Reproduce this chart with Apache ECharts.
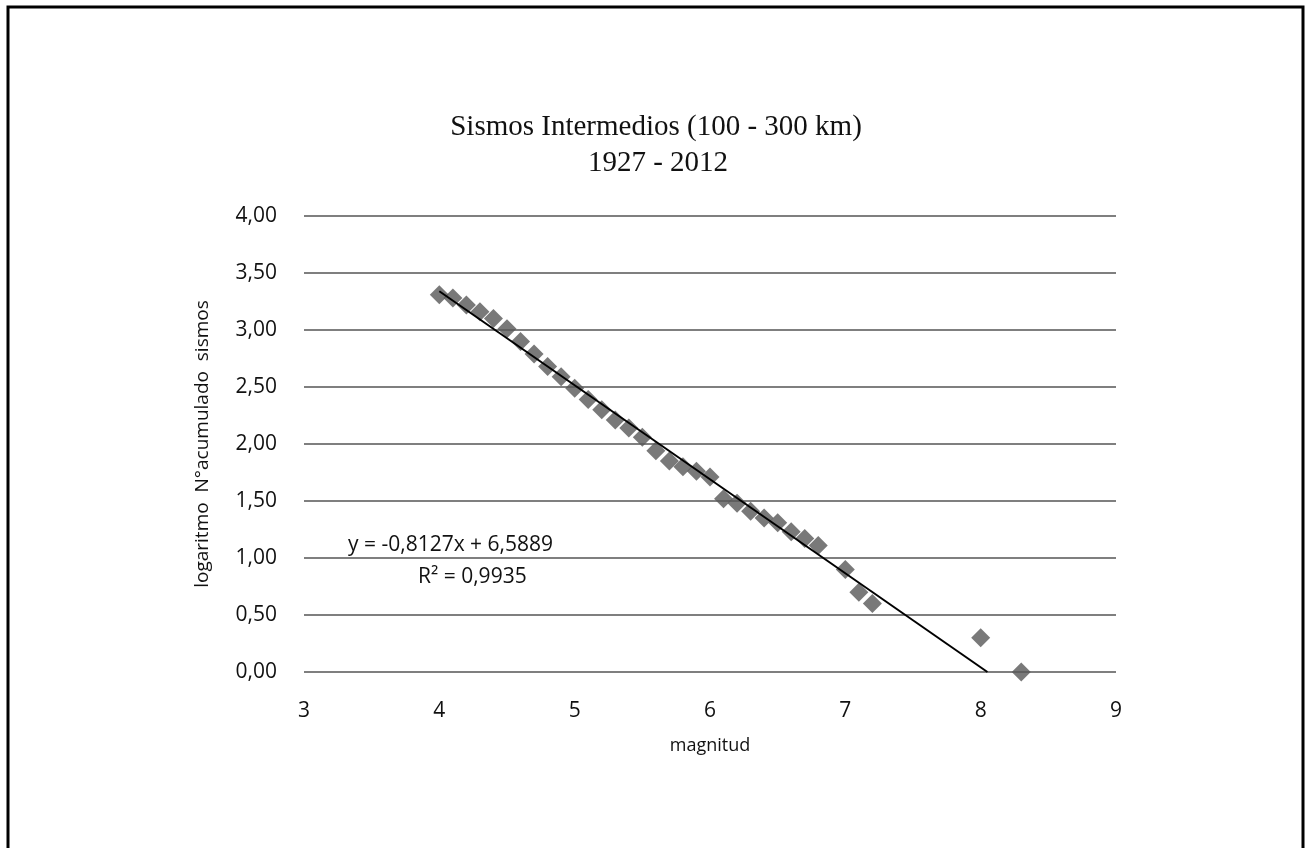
<!DOCTYPE html>
<html>
<head>
<meta charset="utf-8">
<script src="https://cdn.jsdelivr.net/npm/echarts@6/dist/echarts.min.js"></script>
<style>
html,body{margin:0;padding:0;background:#fff;}
#chart{width:1306px;height:848px;}
</style>
</head>
<body>
<div id="chart"></div>
<script>
const magnitudes = [4.0,4.1,4.2,4.3,4.4,4.5,4.6,4.7,4.8,4.9,5.0,5.1,5.2,5.3,5.4,5.5,5.6,5.7,5.8,5.9,6.0,6.1,6.2,6.3,6.4,6.5,6.6,6.7,6.8,7.0,7.1,7.2,8.0,8.3];
const logCumulative = [3.31,3.28,3.22,3.16,3.10,3.01,2.90,2.79,2.68,2.59,2.49,2.39,2.30,2.21,2.14,2.06,1.94,1.85,1.80,1.76,1.71,1.52,1.48,1.41,1.35,1.31,1.23,1.17,1.11,0.90,0.70,0.60,0.30,0.00];
const trendX = [4.0, 8.05];
const trendY = [3.34, 0.0];
const xTicks = [3,4,5,6,7,8,9];
const yTicks = [0,0.5,1,1.5,2,2.5,3,3.5,4];
const titleLines = ['Sismos Intermedios (100 - 300 km)', '1927 - 2012'];
const equationText = 'y = -0,8127x + 6,5889';
const r2Text = 'R² = 0,9935';

const points = magnitudes.map((m,i)=>[m, logCumulative[i]]);
const trend = trendX.map((x,i)=>[x, trendY[i]]);
const sans = '"Open Sans", Lato, sans-serif';
const textColor = '#111';

const chart = echarts.init(document.getElementById('chart'));
chart.setOption({
  animation:false,
  backgroundColor:'#fff',
  grid:{left:304, right:190, top:216, bottom:176},
  xAxis:{
    type:'value', min:xTicks[0], max:xTicks[xTicks.length-1], interval:1,
    name:'magnitud', nameLocation:'middle', nameGap:65,
    nameTextStyle:{fontFamily:sans, fontSize:18, color:textColor},
    axisLine:{show:false}, axisTick:{show:false},
    splitLine:{show:false},
    axisLabel:{fontFamily:sans, fontSize:21, color:textColor, margin:29}
  },
  yAxis:{
    type:'value', min:yTicks[0], max:yTicks[yTicks.length-1], interval:0.5,
    name:'logaritmo  N°acumulado  sismos', nameLocation:'middle', nameGap:92, nameRotate:90,
    nameTextStyle:{fontFamily:sans, fontSize:19, color:textColor},
    axisLine:{show:false}, axisTick:{show:false},
    splitLine:{show:true, lineStyle:{color:'#7f7f7f', width:2}},
    axisLabel:{fontFamily:sans, fontSize:21, color:textColor, margin:27,
      formatter:v=>v.toFixed(2).replace('.',',')}
  },
  graphic:[
    {type:'rect', shape:{x:8, y:7, width:1295, height:900}, style:{fill:'none', stroke:'#000', lineWidth:3}, silent:true},
    {type:'text', style:{x:656, y:127, text:titleLines[0], align:'center', verticalAlign:'middle', font:'29px "Liberation Serif", serif', fill:'#111'}},
    {type:'text', style:{x:658, y:163, text:titleLines[1], align:'center', verticalAlign:'middle', font:'29px "Liberation Serif", serif', fill:'#111'}},
    {type:'text', style:{x:348, y:545, text:equationText, align:'left', verticalAlign:'middle', font:'21px "Open Sans", Lato, sans-serif', fill:textColor}},
    {type:'text', style:{x:418, y:577, text:r2Text, align:'left', verticalAlign:'middle', font:'21px "Open Sans", Lato, sans-serif', fill:textColor}}
  ],
  series:[
    {type:'scatter', data:points, symbol:'diamond', symbolSize:19, clip:false,
      itemStyle:{color:'#585858'}},
    {type:'line', data:trend, showSymbol:false, symbol:'none', lineStyle:{color:'#000', width:2}, z:3}
  ]
});
</script>
</body>
</html>
